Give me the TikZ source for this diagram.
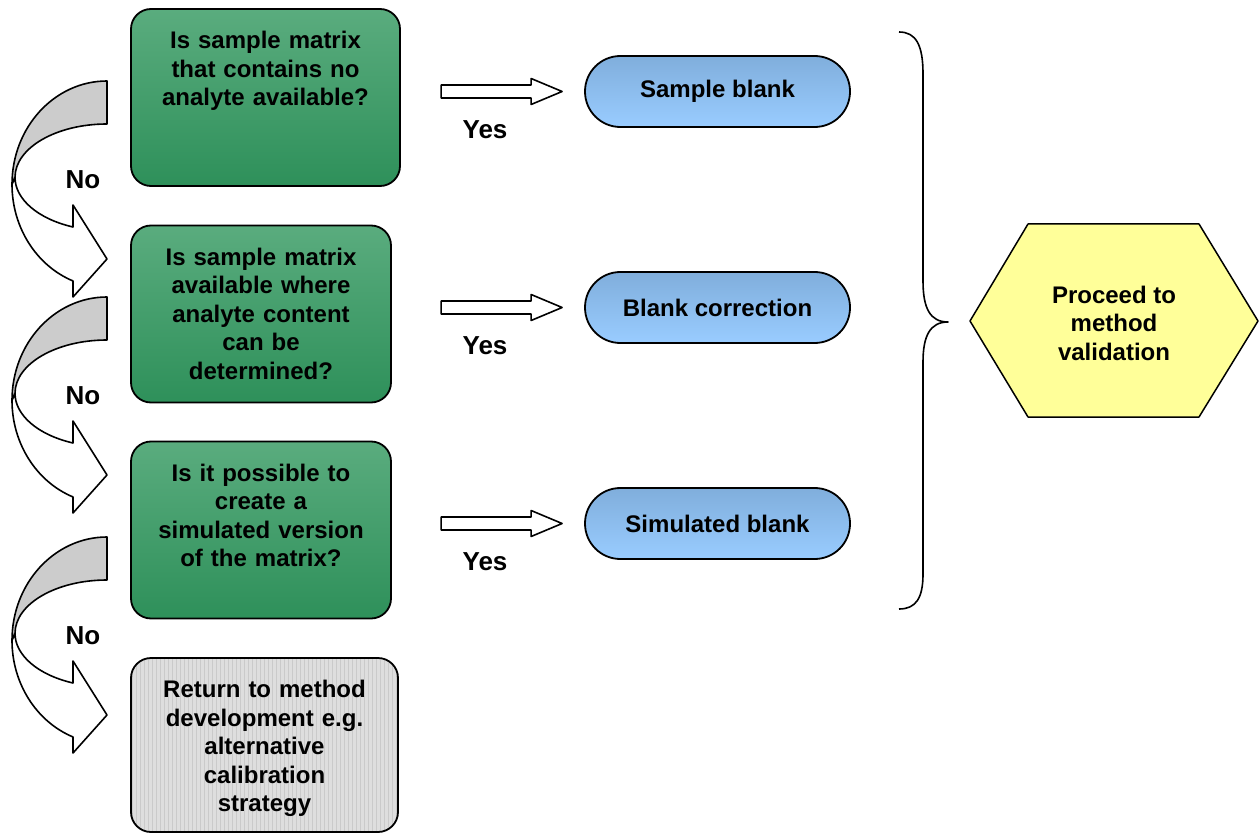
\documentclass[tikz,border=0pt]{standalone}
\usepackage{fontspec}
\setmainfont{Liberation Sans}
\usetikzlibrary{calc}
\definecolor{gtop}{RGB}{90,172,126}
\definecolor{gbot}{RGB}{46,144,90}
\definecolor{btop}{RGB}{128,174,220}
\definecolor{bbot}{RGB}{153,204,255}
\definecolor{hexy}{RGB}{255,255,153}
\definecolor{boxgray}{RGB}{222,222,222}
\definecolor{gridgray}{RGB}{202,202,202}
\definecolor{backgray}{RGB}{204,204,204}
\begin{document}
\begin{tikzpicture}[x=1pt,y=-1pt,line join=round,
  txt/.style={font=\fontsize{24}{28.5}\selectfont\bfseries},
  qbox/.style={draw=black,line width=1.8pt,rounded corners=20pt,top color=gtop,bottom color=gbot,minimum height=177pt,inner sep=0pt},
  gbox/.style={draw=black,line width=1.8pt,rounded corners=20pt,fill=boxgray,minimum height=174pt,minimum width=267pt,inner sep=0pt,
    path picture={\draw[gridgray,line width=0.4pt,step=4] (path picture bounding box.south west) grid (path picture bounding box.north east);}},
  qtext/.style={txt,align=center,text width=255pt,inner sep=0pt,anchor=north},
  pill/.style={txt,draw=black,line width=1.8pt,rounded corners=35.4pt,top color=btop,bottom color=bbot,minimum width=265pt,minimum height=71pt,inner sep=0pt},
  lab/.style={font=\fontsize{26}{30}\selectfont\bfseries,inner sep=0pt},
  hollow/.pic={\draw[line width=1.6pt,fill=white] (0,-6.5) -- (90,-6.5) -- (90,-13) -- (121,0) -- (90,13) -- (90,6.5) -- (0,6.5) -- cycle;},
  curv/.pic={
    \draw[line width=1.6pt,fill=backgray] (107,0) arc[start angle=270,end angle=180,x radius=95,y radius=103.4]
      -- (15,96.4) arc[start angle=180,end angle=270,x radius=92,y radius=53.4] -- cycle;
    \draw[line width=1.6pt,fill=white] (12,103.4) arc[start angle=180,end angle=111,x radius=95,y radius=103.4]
      -- (73,216) -- (107,178) -- (73,124) -- (73,146)
      arc[start angle=111.7,end angle=180,x radius=92,y radius=53.4] -- cycle;}
]
\useasboundingbox (0,0) rectangle (1260,834);

% question boxes
\node[qbox,minimum width=269pt] (q1) at (265.5,97.5) {};
\node[qbox,minimum width=260pt] (q2) at (261,314) {};
\node[qbox,minimum width=260pt] (q3) at (261,530) {};
\node[gbox] (q4) at (264.5,745) {};
\node[qtext] (q1t) at ($(q1.north)+(0,23)$) {Is sample matrix\\that contains no\\analyte available?};
\node[qtext] (q2t) at ($(q2.north)+(0,23)$) {Is sample matrix\\available where\\analyte content\\can be\\determined?};
\node[qtext] (q3t) at ($(q3.north)+(0,23)$) {Is it possible to\\create a\\simulated version\\of the matrix?};
\node[qtext] (q4t) at ($(q4.north)+(0,23)$) {Return to method\\development e.g.\\alternative\\calibration\\strategy};

% blank pills
\node[pill] (s1) at (717.5,91.5) {Sample blank};
\node[pill] (s2) at (717.5,307.5) {Blank correction};
\node[pill] (s3) at (717.5,523.5) {Simulated blank};

% hollow arrows
\pic at ($(s1.west)+(-143,0)$) {hollow};
\pic at ($(s2.west)+(-143,0)$) {hollow};
\pic at ($(s3.west)+(-143,0)$) {hollow};
\node[lab] (y1) at (485,130) {Yes};
\node[lab] (y2) at (485,346) {Yes};
\node[lab] (y3) at (485,562) {Yes};

% curved arrows
\pic at (0,81) {curv};
\pic at (0,297) {curv};
\pic at (0,537) {curv};
\node[lab] (n1) at (83,180) {No};
\node[lab] (n2) at (83,396) {No};
\node[lab] (n3) at (83,636) {No};

% brace
\draw[line width=1.6pt] (899,32) .. controls (916,32) and (923,45) .. (923,74)
  -- (923,281) .. controls (923,308) and (930,322) .. (948,322)
  .. controls (930,322) and (923,336) .. (923,362)
  -- (923,574) .. controls (923,598) and (916,609) .. (899,609);

% hexagon
\draw[line width=1.5pt,fill=hexy] (970,321) -- (1028,224) -- (1199,224) -- (1258,321) -- (1199,417) -- (1028,417) -- cycle;
\node[txt,align=center,inner sep=0pt] (pv) at (1114,323) {Proceed to\\method\\validation};
\end{tikzpicture}
\end{document}
